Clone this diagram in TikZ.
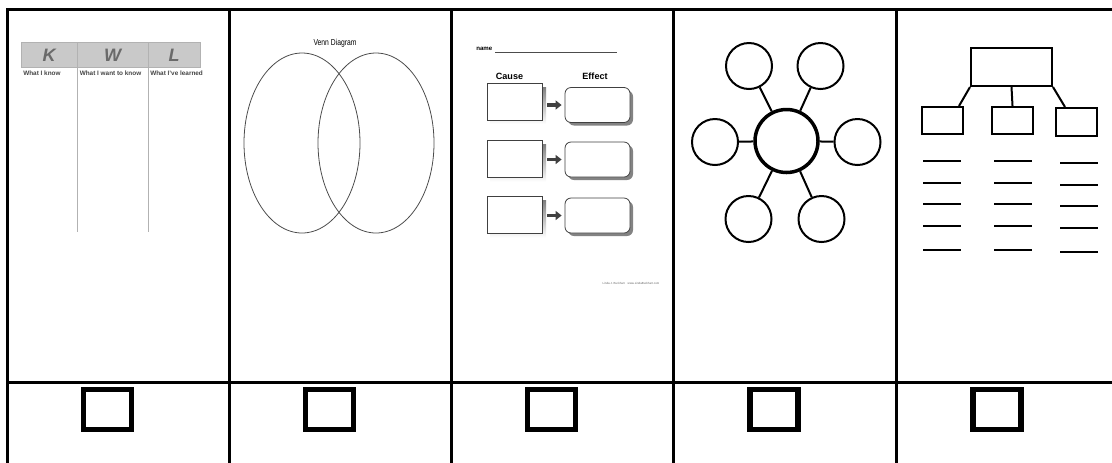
\documentclass[tikz,border=0pt]{standalone}
\usepackage{fontspec}
\usepackage{graphicx}
\setmainfont{Liberation Sans}
\usetikzlibrary{calc,shapes.geometric,arrows.meta}
\newcommand\pxu{0.75pt}
\definecolor{kwlhead}{HTML}{C9C9C9}
\definecolor{kwlletter}{HTML}{6A6A6A}
\definecolor{kwltext}{HTML}{444444}
\definecolor{shade}{HTML}{9A9A9A}
\begin{document}
\begin{tikzpicture}[x=0.75pt,y=-0.75pt,
  gridline/.style={line width=3*\pxu, line cap=rect},
  kwlline/.style={draw=gray!60, line width=1*\pxu},
  kwlbig/.style={font=\fontsize{13.5}{14}\selectfont\itshape\bfseries, text=kwlletter, inner sep=0},
  kwlsub/.style={font=\fontsize{4.8}{5}\selectfont\bfseries, text=kwltext, inner sep=0, anchor=west},
  venn/.style={ellipse, draw=black!70, line width=0.8*\pxu, minimum width=116*\pxu, minimum height=180*\pxu, inner sep=0},
  cbox/.style={draw=black!75, fill=white, line width=0.8*\pxu, inner sep=0, minimum width=55*\pxu, minimum height=37*\pxu},
  ebox/.style={draw=black!75, fill=white, line width=0.8*\pxu, rounded corners=6*\pxu, inner sep=0, minimum width=65*\pxu, minimum height=35*\pxu},
  cearrow/.style={-{Triangle[length=6*\pxu,width=9*\pxu]}, draw=black!75, line width=3.5*\pxu},
  hub/.style={circle, draw, line width=3.5*\pxu, minimum size=63*\pxu, inner sep=0},
  leaf/.style={circle, draw, line width=2*\pxu, minimum size=46*\pxu, inner sep=0},
  spoke/.style={line width=2*\pxu},
  tbox/.style={draw, line width=2*\pxu, inner sep=0},
  wline/.style={line width=2.5*\pxu},
  chk/.style={draw, line width=5.5*\pxu, inner sep=0, minimum width=48*\pxu, minimum height=40*\pxu},
  lbl/.style={inner sep=0}
]
\useasboundingbox (0,0) rectangle (1112,462);

% ---------- table grid ----------
\coordinate (tl) at (7,9);
\coordinate (tr) at (1112,9);
\coordinate (ml) at (7,382);
\coordinate (mr) at (1112,382);
\draw[gridline] (tl) -- (tr);
\draw[gridline] (ml) -- (mr);
\foreach \xx in {7,229,451,673,896}{
  \draw[gridline] (\xx,9) -- (\xx,462);
}

% ---------- panel 1: KWL ----------
\fill[kwlhead] (21,42) rectangle (200,67);
\draw[draw=gray!60, line width=0.5*\pxu] (21,42) rectangle (200,67);
\draw[kwlline] (77,42) -- (77,232);
\draw[kwlline] (148,42) -- (148,232);
\node[kwlbig] (kk) at (49,55) {K};
\node[kwlbig] (kw) at (112.5,55) {W};
\node[kwlbig] (kl) at (174,55) {L};
\node[kwlsub] (sk) at (23,73) {What I know};
\node[kwlsub] (sw) at (79.5,73) {What I want to know};
\node[kwlsub] (sl) at (150,73) {What I've learned};

% ---------- panel 2: Venn ----------
\node[lbl, font=\fontsize{6.5}{7}\selectfont] (vt) at (335,43) {\scalebox{0.78}[1]{Venn Diagram}};
\node[venn] (va) at (302,143) {};
\node[venn] (vb) at (376,143) {};

% ---------- panel 3: Cause / Effect ----------
\node[lbl, font=\fontsize{4.6}{5}\selectfont\bfseries, anchor=west] (nm) at (476,49) {name};
\coordinate (nl1) at (495,52);
\coordinate (nl2) at (617,52);
\draw[black!70, line width=0.6*\pxu] (nl1) -- (nl2);
\node[lbl, font=\fontsize{6.8}{7}\selectfont\bfseries] (cause) at (509.5,76) {Cause};
\node[lbl, font=\fontsize{6.8}{7}\selectfont\bfseries] (effect) at (595,76) {Effect};

\foreach \i/\cy/\ey in {1/101.5/105, 2/159/159.5, 3/215/215.5}{
  \fill[shade] (490,\cy-18.5+4) rectangle (546,\cy+18.5+4);
  \node[cbox] (c\i) at (514.5,\cy) {};
  \fill[shade!85!black, rounded corners=6*\pxu] (568,\ey-17.5+3) rectangle (633,\ey+17.5+3);
  \node[ebox] (e\i) at (597.5,\ey) {};
  \draw[cearrow, shorten <=5*\pxu, shorten >=3*\pxu] (c\i.east |- e\i.west) -- (e\i.west);
}
\node[lbl, font=\fontsize{2.2}{3}\selectfont, text=black!60] (credit) at (631,283) {Linda J. Burkhart\quad www.LindaBurkhart.com};

% ---------- panel 4: bubble map ----------
\node[hub] (hub) at (786.5,141) {};
\node[leaf] (b1) at (749,66) {};
\node[leaf] (b2) at (820.5,66) {};
\node[leaf] (b3) at (715,142) {};
\node[leaf] (b4) at (857.5,142) {};
\node[leaf] (b5) at (748.5,219) {};
\node[leaf] (b6) at (821.5,219) {};
\foreach \b in {b1,b2,b3,b4,b5,b6}{
  \draw[spoke] (hub) -- (\b);
}

% ---------- panel 5: tree ----------
\node[tbox, minimum width=81*\pxu, minimum height=38*\pxu] (top) at (1011.5,67) {};
\node[tbox, minimum width=41*\pxu, minimum height=27*\pxu] (t1) at (942.5,120.5) {};
\node[tbox, minimum width=41*\pxu, minimum height=27*\pxu] (t2) at (1012.5,120.5) {};
\node[tbox, minimum width=41*\pxu, minimum height=28*\pxu] (t3) at (1076.5,122) {};
\draw[spoke] (top.south west) -- ($(t1.north east)+(-5,0)$);
\draw[spoke] (top.south) -- (t2.north);
\draw[spoke] (top.south east) -- ($(t3.north west)+(10,0)$);
\foreach \yy in {161,183,204,226,250}{
  \draw[wline] (923,\yy) -- (961,\yy);
  \draw[wline] (994,\yy) -- (1032,\yy);
  \draw[wline] (1060,\yy+2) -- (1098,\yy+2);
}

% ---------- check boxes ----------
\node[chk] (k1) at (107.5,409.5) {};
\node[chk] (k2) at (329.5,409.5) {};
\node[chk] (k3) at (551.5,409.5) {};
\node[chk] (k4) at (774,409.5) {};
\node[chk] (k5) at (997,409.5) {};
\end{tikzpicture}
\end{document}
